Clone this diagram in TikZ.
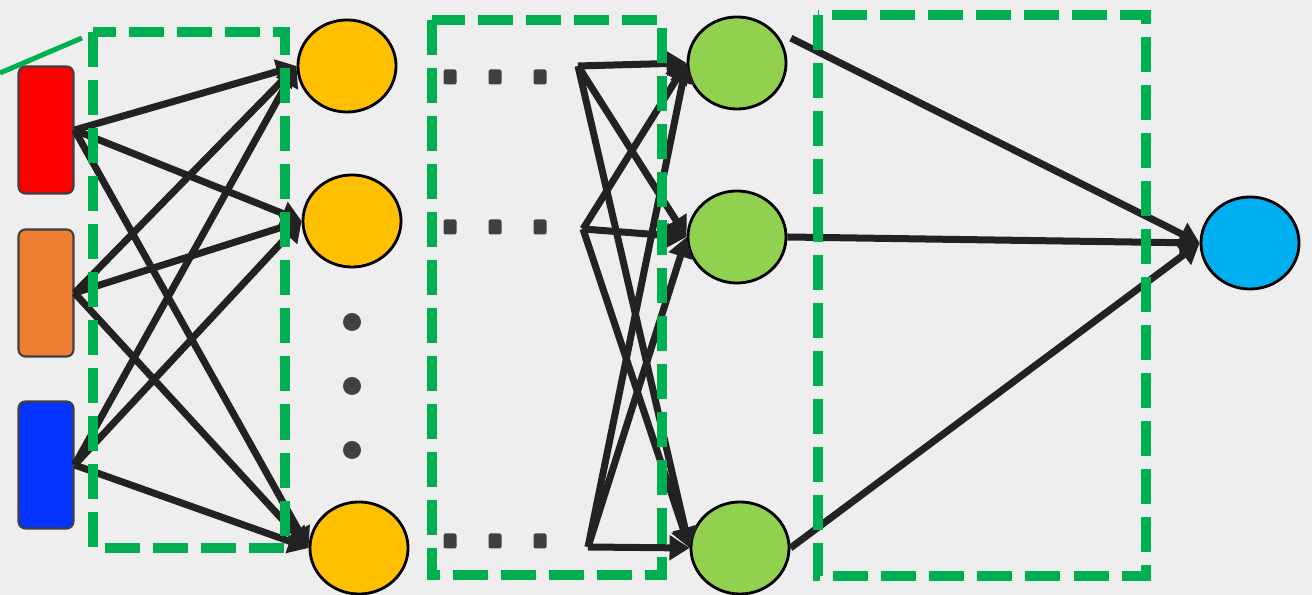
\documentclass[tikz,border=0pt]{standalone}
\usepackage{tikz}
\usetikzlibrary{arrows.meta,shapes.geometric}

\definecolor{bggray}{HTML}{EFEEEF}
\definecolor{boxgreen}{HTML}{00B050}
\definecolor{wirecol}{HTML}{222222}
\definecolor{dotgray}{HTML}{404040}
\definecolor{inred}{HTML}{FF0000}
\definecolor{inorange}{HTML}{ED7D31}
\definecolor{inblue}{HTML}{0432FF}
\definecolor{hidyellow}{HTML}{FFC000}
\definecolor{hidgreen}{HTML}{92D050}
\definecolor{outblue}{HTML}{00B0F0}

\tikzset{
   input/.style={draw=dotgray, line width=0.6pt, rounded corners=0.07cm,
      minimum width=0.55cm, minimum height=1.27cm, inner sep=0pt},
   unit/.style={ellipse, draw=black, line width=0.8pt,
      minimum width=0.98cm, minimum height=0.92cm, inner sep=0pt},
   vdot/.style={circle, fill=dotgray, minimum size=0.18cm, inner sep=0pt},
   sqdot/.style={fill=dotgray, rounded corners=0.02cm,
      minimum width=0.13cm, minimum height=0.15cm, inner sep=0pt},
   wire/.style={draw=wirecol, line width=0.07cm,
      -{Triangle[length=0.2cm,width=0.24cm]}},
   layerbox/.style={draw=boxgreen, line width=0.1cm,
      dash pattern=on 0.35cm off 0.13cm}
}

\begin{document}
\begin{tikzpicture}[x=0.01cm, y=-0.01cm]
   \useasboundingbox (0,0) rectangle (1312,595);
   \fill[bggray] (0,0) rectangle (1312,595);
   \draw[boxgreen, line width=0.05cm] (0,73) -- (82,38);
   % Inputs
   \node[input, fill=inred] (in1) at (46,130) {};
   \node[input, fill=inorange] (in2) at (46,293) {};
   \node[input, fill=inblue] (in3) at (46,465) {};
   % First hidden layer
   \node[unit, fill=hidyellow] (h1) at (347,66) {};
   \node[unit, fill=hidyellow] (h2) at (352,221) {};
   \node[unit, fill=hidyellow] (h3) at (359,548) {};
   \foreach \y [count=\i] in {322,386,450}
      \node[vdot] (v\i) at (352,\y) {};
   % Hidden layers in between
   \foreach \y [count=\r] in {77,227,541}
      \foreach \x [count=\c] in {450,495,540}
         \node[sqdot] (s\r\c) at (\x,\y) {};
   \coordinate (f1) at (578,66);
   \coordinate (f2) at (583,229);
   \coordinate (f3) at (588,547);
   % Last hidden layer
   \node[unit, fill=hidgreen] (g1) at (737,63) {};
   \node[unit, fill=hidgreen] (g2) at (737,237) {};
   \node[unit, fill=hidgreen] (g3) at (740,548) {};
   % Output
   \node[unit, fill=outblue] (out) at (1250,243) {};
   % Connections
   \foreach \i in {1,2,3}
      \foreach \j in {1,2,3}
         \draw[wire] (in\i.east) -- (h\j.west);
   \foreach \i in {1,2,3}
      \foreach \j in {1,2,3}
         \draw[wire] (f\i) -- (g\j.west);
   \draw[wire] ([xshift=0.11cm]g1.30) -- (out.west);
   \draw[wire] (g2.east) -- (out.west);
   \draw[wire] (g3.east) -- (out.west);
   % Layer boxes
   \draw[layerbox] (93,32) rectangle (285,548);
   \draw[layerbox] (432,20) rectangle (662,575);
   \draw[layerbox] (818,15) rectangle (1146,576);
\end{tikzpicture}
\end{document}
